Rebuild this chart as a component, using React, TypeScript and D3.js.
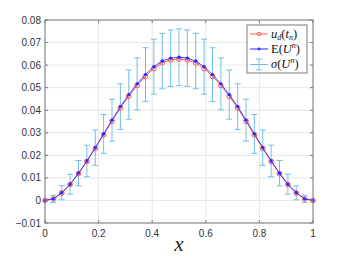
import React from 'react'
import * as d3 from 'd3'

// grid points x_j = j/32
const xs = [
  0, 0.03125, 0.0625, 0.09375, 0.125, 0.15625, 0.1875, 0.21875, 0.25, 0.28125, 0.3125,
  0.34375, 0.375, 0.40625, 0.4375, 0.46875, 0.5, 0.53125, 0.5625, 0.59375, 0.625,
  0.65625, 0.6875, 0.71875, 0.75, 0.78125, 0.8125, 0.84375, 0.875, 0.90625, 0.9375,
  0.96875, 1
]

// u_d(t_n)
const uD = [
  0, 0.0007, 0.0033, 0.0071, 0.0119, 0.0173, 0.0231, 0.0291, 0.0351, 0.041, 0.0462,
  0.051, 0.055, 0.0585, 0.061, 0.0623, 0.0627, 0.0623, 0.061, 0.0585, 0.055,
  0.051, 0.0462, 0.041, 0.0351, 0.0291, 0.0231, 0.0173, 0.0119, 0.0071, 0.0033,
  0.0007, 0
]

// E(U^n)
const meanU = [
  0, 0.0007, 0.0034, 0.0072, 0.0121, 0.0175, 0.0234, 0.0295, 0.0356, 0.0416, 0.0469,
  0.0517, 0.0558, 0.0593, 0.0618, 0.0631, 0.0635, 0.0631, 0.0618, 0.0593, 0.0558,
  0.0517, 0.0469, 0.0416, 0.0356, 0.0295, 0.0234, 0.0175, 0.0121, 0.0072, 0.0034,
  0.0007, 0
]

// sigma(U^n)
const sigmaU = [
  0, 0.0016, 0.0031, 0.0044, 0.0056, 0.007, 0.0078, 0.0086, 0.0093, 0.0101, 0.0109,
  0.0115, 0.0119, 0.0122, 0.0123, 0.0125, 0.0126, 0.0125, 0.0123, 0.0122, 0.0119,
  0.0115, 0.0109, 0.0101, 0.0093, 0.0086, 0.0078, 0.007, 0.0056, 0.0044, 0.0031,
  0.0016, 0
]

const xTicks = [0, 0.2, 0.4, 0.6, 0.8, 1]
const yTicks = [-0.01, 0, 0.01, 0.02, 0.03, 0.04, 0.05, 0.06, 0.07, 0.08]

const W = 346
const H = 260
const left = 45
const right = 313
const top = 20
const bottom = 223

const axisColor = '#7a7a7a'
const gridColor = '#e8e8e8'
const redColor = '#ff5c5c'
const blueColor = '#2a2aff'
const errColor = '#72bfe8'
const tickFont = '"Liberation Sans", Arial, sans-serif'
const mathFont = '"Liberation Serif", "DejaVu Serif", serif'

function App() {
  const x = d3.scaleLinear().domain([0, 1]).range([left, right])
  const y = d3.scaleLinear().domain([-0.01, 0.08]).range([bottom, top])

  const line = d3
    .line<number>()
    .x((d, i) => x(xs[i]))
    .y(d => y(d))

  const capW = 3

  return (
    <div style={{ position: 'absolute', left: 0, top: 0 }}>
      <svg width={W} height={H} style={{ display: 'block', background: '#fff' }}>
        {/* grid */}
        {xTicks.map(t => (
          <line key={'gx' + t} x1={x(t)} x2={x(t)} y1={top} y2={bottom} stroke={gridColor} strokeWidth={1} />
        ))}
        {yTicks.map(t => (
          <line key={'gy' + t} x1={left} x2={right} y1={y(t)} y2={y(t)} stroke={gridColor} strokeWidth={1} />
        ))}

        {/* error bars */}
        {xs.map((xv, i) =>
          sigmaU[i] > 0 ? (
            <g key={'e' + i} stroke={errColor} strokeWidth={1}>
              <line x1={x(xv)} x2={x(xv)} y1={y(meanU[i] - sigmaU[i])} y2={y(meanU[i] + sigmaU[i])} />
              <line x1={x(xv) - capW} x2={x(xv) + capW} y1={y(meanU[i] - sigmaU[i])} y2={y(meanU[i] - sigmaU[i])} />
              <line x1={x(xv) - capW} x2={x(xv) + capW} y1={y(meanU[i] + sigmaU[i])} y2={y(meanU[i] + sigmaU[i])} />
            </g>
          ) : null
        )}

        {/* u_d */}
        <path d={line(uD) || ''} fill="none" stroke={redColor} strokeWidth={1} />
        {uD.map((v, i) => (
          <circle key={'r' + i} cx={x(xs[i])} cy={y(v)} r={2.4} fill="none" stroke={redColor} strokeWidth={1} />
        ))}

        {/* E(U^n) */}
        <path d={line(meanU) || ''} fill="none" stroke={blueColor} strokeWidth={0.9} />
        {meanU.map((v, i) => (
          <circle key={'b' + i} cx={x(xs[i])} cy={y(v)} r={1.7} fill={blueColor} />
        ))}

        {/* axes box */}
        <rect x={left} y={top} width={right - left} height={bottom - top} fill="none" stroke={axisColor} strokeWidth={1} />
        {xTicks.map(t => (
          <g key={'tx' + t}>
            <line x1={x(t)} x2={x(t)} y1={bottom} y2={bottom - 3} stroke={axisColor} />
            <line x1={x(t)} x2={x(t)} y1={top} y2={top + 3} stroke={axisColor} />
            <text x={x(t)} y={bottom + 14} fontFamily={tickFont} fontSize={10} fill="#333" textAnchor="middle">
              {d3.format('~g')(t)}
            </text>
          </g>
        ))}
        {yTicks.map(t => (
          <g key={'ty' + t}>
            <line x1={left} x2={left + 3} y1={y(t)} y2={y(t)} stroke={axisColor} />
            <line x1={right} x2={right - 3} y1={y(t)} y2={y(t)} stroke={axisColor} />
            <text x={left - 4} y={y(t) + 3.5} fontFamily={tickFont} fontSize={10} fill="#333" textAnchor="end">
              {t === 0 ? '0' : d3.format('.2f')(t)}
            </text>
          </g>
        ))}

        {/* x label */}
        <text x={(left + right) / 2} y={251} fontFamily={mathFont} fontStyle="italic" fontSize={21} fill="#262626" textAnchor="middle">
          x
        </text>

        {/* legend */}
        <g>
          <rect x={247} y={25} width={60} height={48} fill="#fff" stroke={axisColor} strokeWidth={1} />
          <line x1={250} x2={268} y1={34} y2={34} stroke={redColor} />
          <circle cx={259} cy={34} r={1.8} fill="none" stroke={redColor} />
          <text x={271} y={38} fontFamily={mathFont} fontSize={12.5} fill="#111">
            <tspan fontStyle="italic">u</tspan>
            <tspan fontStyle="italic" fontSize={8} dy={2}>d</tspan>
            <tspan dy={-2}>(</tspan>
            <tspan fontStyle="italic">t</tspan>
            <tspan fontStyle="italic" fontSize={8} dy={2}>n</tspan>
            <tspan dy={-2}>)</tspan>
          </text>
          <line x1={250} x2={268} y1={49} y2={49} stroke={blueColor} />
          <circle cx={259} cy={49} r={1.4} fill={blueColor} />
          <text x={271} y={53} fontFamily={mathFont} fontSize={12.5} fill="#111">
            <tspan>E(</tspan>
            <tspan fontStyle="italic">U</tspan>
            <tspan fontStyle="italic" fontSize={8} dy={-5}>n</tspan>
            <tspan dy={5}>)</tspan>
          </text>
          <line x1={259} x2={259} y1={59} y2={70} stroke={errColor} />
          <line x1={250} x2={268} y1={64.5} y2={64.5} stroke={errColor} />
          <line x1={256} x2={262} y1={59} y2={59} stroke={errColor} />
          <line x1={256} x2={262} y1={70} y2={70} stroke={errColor} />
          <text x={271} y={68} fontFamily={mathFont} fontSize={12.5} fill="#111">
            <tspan fontStyle="italic">σ</tspan>
            <tspan>(</tspan>
            <tspan fontStyle="italic">U</tspan>
            <tspan fontStyle="italic" fontSize={8} dy={-5}>n</tspan>
            <tspan dy={5}>)</tspan>
          </text>
        </g>
      </svg>
    </div>
  )
}

export default App
